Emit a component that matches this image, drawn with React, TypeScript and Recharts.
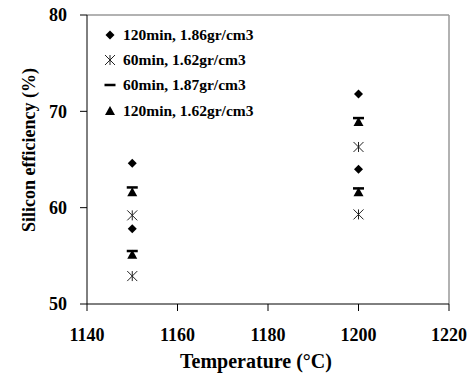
import { ScatterChart, Scatter, XAxis, YAxis, ReferenceLine, Label } from 'recharts'

// temperatures (°C) for each measured point
const temps = [1150, 1150, 1200, 1200]

// silicon efficiency (%) per sample
const eff120_186 = [64.6, 57.8, 71.8, 64.0]
const eff60_162 = [59.2, 52.9, 66.3, 59.3]
const eff60_187 = [62.1, 55.5, 69.3, 62.0]
const eff120_162 = [61.6, 55.1, 68.9, 61.6]

const xTicks = [1140, 1160, 1180, 1200, 1220]
const yTicks = [50, 60, 70, 80]

const seriesNames = ['120min, 1.86gr/cm3', '60min, 1.62gr/cm3', '60min, 1.87gr/cm3', '120min, 1.62gr/cm3']

const FONT = '"Liberation Serif", "Times New Roman", serif'

const toPoints = (vals: number[]) => vals.map((v, i) => ({ x: temps[i], y: v }))

const Diamond = ({ cx, cy }: any) => (
  <polygon points={`${cx},${cy - 4.5} ${cx + 4.5},${cy} ${cx},${cy + 4.5} ${cx - 4.5},${cy}`} fill="#000" />
)

const Star = ({ cx, cy }: any) => (
  <g stroke="#222" strokeWidth={1}>
    <line x1={cx - 5} y1={cy - 5} x2={cx + 5} y2={cy + 5} />
    <line x1={cx - 5} y1={cy + 5} x2={cx + 5} y2={cy - 5} />
    <line x1={cx} y1={cy - 5} x2={cx} y2={cy + 5} />
  </g>
)

const Dash = ({ cx, cy }: any) => <rect x={cx - 5.5} y={cy - 1.25} width={11} height={2.5} fill="#000" />

const Triangle = ({ cx, cy }: any) => (
  <polygon points={`${cx},${cy - 5} ${cx + 5},${cy + 4} ${cx - 5},${cy + 4}`} fill="#000" />
)

const shapes = [Diamond, Star, Dash, Triangle]

const tickFont = { fontFamily: FONT, fontWeight: 'bold', fontSize: 18, fill: '#000' }

function ChartLegend() {
  return (
    <div
      style={{
        position: 'absolute',
        left: 104,
        top: 22,
        fontFamily: FONT,
        fontWeight: 'bold',
        fontSize: 15.5,
        color: '#000',
      }}
    >
      {seriesNames.map((name, i) => {
        const Shape = shapes[i]
        return (
          <div key={name} style={{ display: 'flex', alignItems: 'center', height: 25.3, whiteSpace: 'nowrap' }}>
            <svg width={12} height={12} style={{ marginRight: 7 }}>
              <Shape cx={6} cy={6} />
            </svg>
            <span>{name}</span>
          </div>
        )
      })}
    </div>
  )
}

export default function App() {
  return (
    <div style={{ position: 'absolute', left: 0, top: 0, width: 470, height: 375, background: '#fff' }}>
      <ScatterChart width={470} height={375} margin={{ top: 15, right: 21, left: 0, bottom: 0 }}>
        <XAxis
          type="number"
          dataKey="x"
          domain={[1140, 1220]}
          ticks={xTicks}
          height={71}
          tick={tickFont}
          tickSize={7}
          tickMargin={17}
          axisLine={{ stroke: '#000' }}
          tickLine={{ stroke: '#000' }}
        >
          <Label
            content={() => (
              <text x={256} y={368} textAnchor="middle" fontFamily={FONT} fontWeight="bold" fontSize={20} fill="#000">
                Temperature (°C)
              </text>
            )}
          />
        </XAxis>
        <YAxis
          type="number"
          dataKey="y"
          domain={[50, 80]}
          ticks={yTicks}
          width={87}
          tick={tickFont}
          tickSize={7}
          tickMargin={13}
          axisLine={{ stroke: '#000' }}
          tickLine={{ stroke: '#000' }}
        >
          <Label
            content={() => (
              <text
                x={35}
                y={150}
                transform="rotate(-90 35 150)"
                textAnchor="middle"
                fontFamily={FONT}
                fontWeight="bold"
                fontSize={18}
                fill="#000"
              >
                Silicon efficiency (%)
              </text>
            )}
          />
        </YAxis>
        <ReferenceLine y={80} stroke="#999" strokeWidth={1.5} />
        <ReferenceLine x={1220} stroke="#999" strokeWidth={1.5} />
        <Scatter name={seriesNames[0]} data={toPoints(eff120_186)} shape={<Diamond />} isAnimationActive={false} />
        <Scatter name={seriesNames[1]} data={toPoints(eff60_162)} shape={<Star />} isAnimationActive={false} />
        <Scatter name={seriesNames[2]} data={toPoints(eff60_187)} shape={<Dash />} isAnimationActive={false} />
        <Scatter name={seriesNames[3]} data={toPoints(eff120_162)} shape={<Triangle />} isAnimationActive={false} />
      </ScatterChart>
      <ChartLegend />
    </div>
  )
}
